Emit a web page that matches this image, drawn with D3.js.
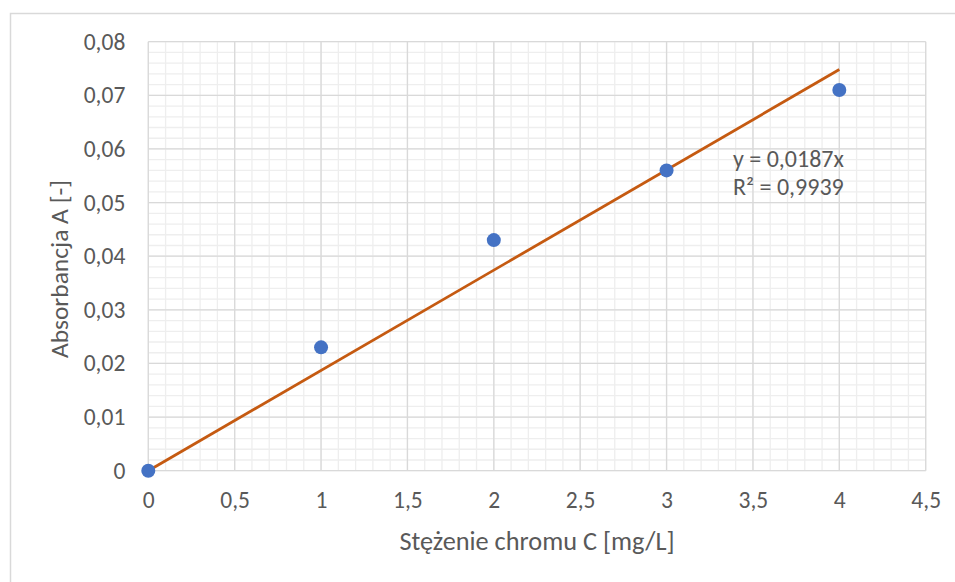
<!DOCTYPE html>
<html><head><meta charset="utf-8">
<script src="https://cdn.jsdelivr.net/npm/d3@7"></script>
<style>body{margin:0;background:#fff}svg{display:block}text{font-family:Carlito,"Open Sans","Liberation Sans",sans-serif}</style>
</head><body>
<svg id="c" width="955" height="582"></svg>
<script>
const concentrations = [0, 1, 2, 3, 4];
const absorbances = [0, 0.023, 0.043, 0.056, 0.071];
const slope = 0.0187;
const xTicks = [0, 0.5, 1, 1.5, 2, 2.5, 3, 3.5, 4, 4.5];
const yTicks = [0, 0.01, 0.02, 0.03, 0.04, 0.05, 0.06, 0.07, 0.08];
const equationLines = ["y = 0,0187x", "R² = 0,9939"];
const xTitle = "Stężenie chromu C [mg/L]";
const yTitle = "Absorbancja A [-]";

const svg = d3.select("#c");
const x = d3.scaleLinear().domain([0, 4.5]).range([148.3, 925.7]);
const y = d3.scaleLinear().domain([0, 0.08]).range([470.7, 41.7]);
const fmt = v => String(+v.toFixed(3)).replace(".", ",");
const FONT = 'Carlito,"Open Sans","Liberation Sans",sans-serif';

// outer chart border (top & left visible)
svg.append("path").attr("d","M10.5,582 V13.5 H955").attr("fill","none").attr("stroke","#d9d9d9").attr("stroke-width",1.5);

// minor grid
const xMinor = d3.range(0, 4.5001, 0.1).map(v=>+v.toFixed(2));
const yMinor = d3.range(0, 0.08001, 0.002).map(v=>+v.toFixed(4));
const g = svg.append("g");
g.selectAll(".mx").data(xMinor).join("line").attr("x1",d=>x(d)).attr("x2",d=>x(d)).attr("y1",y(0)).attr("y2",y(0.08)).attr("stroke","#eeeeee").attr("stroke-width",1.3);
g.selectAll(".my").data(yMinor).join("line").attr("y1",d=>y(d)).attr("y2",d=>y(d)).attr("x1",x(0)).attr("x2",x(4.5)).attr("stroke","#eeeeee").attr("stroke-width",1.3);
// major grid
g.selectAll(".Mx").data(xTicks).join("line").attr("x1",d=>x(d)).attr("x2",d=>x(d)).attr("y1",y(0)).attr("y2",y(0.08)).attr("stroke","#d9d9d9").attr("stroke-width",1.3);
g.selectAll(".My").data(yTicks).join("line").attr("y1",d=>y(d)).attr("y2",d=>y(d)).attr("x1",x(0)).attr("x2",x(4.5)).attr("stroke","#d9d9d9").attr("stroke-width",1.3);

// axes (labels only)
const xa = svg.append("g").attr("transform",`translate(0,${y(0)})`).call(d3.axisBottom(x).tickValues(xTicks).tickFormat(fmt).tickSize(0).tickPadding(21));
xa.select(".domain").remove();
const ya = svg.append("g").attr("transform",`translate(${x(0)},0)`).call(d3.axisLeft(y).tickValues(yTicks).tickFormat(fmt).tickSize(0).tickPadding(23));
ya.select(".domain").remove();
svg.selectAll(".tick text").attr("fill","#595959").attr("font-size",23.5).attr("font-family",FONT);

// trendline
svg.append("line").attr("x1",x(0)).attr("y1",y(0)).attr("x2",x(4)).attr("y2",y(slope*4)).attr("stroke","#c55a11").attr("stroke-width",2.8);

// points
svg.selectAll(".pt").data(concentrations).join("circle").attr("cx",d=>x(d)).attr("cy",(d,i)=>y(absorbances[i])).attr("r",7).attr("fill","#4472c4");

// equation
svg.append("text").attr("fill","#595959").attr("font-size",24)
  .selectAll("tspan").data(equationLines).join("tspan").attr("x",733).attr("y",(d,i)=>167+i*28).text(d=>d);

// titles
svg.append("text").attr("x",537).attr("y",550).attr("text-anchor","middle").attr("fill","#595959").attr("font-size",26.3).text(xTitle);
svg.append("text").attr("transform","translate(68,269) rotate(-90)").attr("text-anchor","middle").attr("fill","#595959").attr("font-size",25.5).text(yTitle);
</script>
</body></html>
